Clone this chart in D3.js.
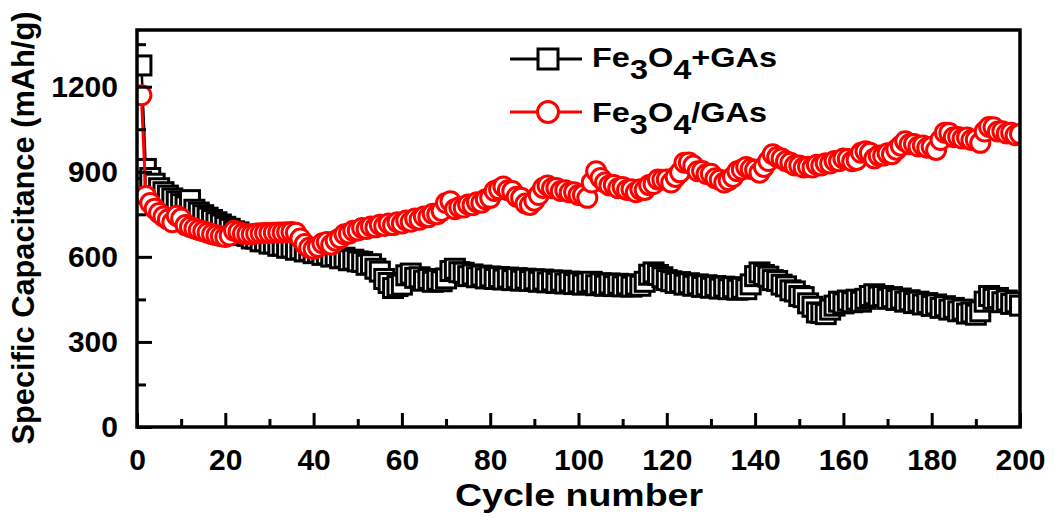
<!DOCTYPE html>
<html><head><meta charset="utf-8">
<script src="https://cdn.jsdelivr.net/npm/d3@7"></script>
<style>
html,body{margin:0;padding:0;background:#fff;}
svg{display:block;font-family:"Liberation Sans",Arial,sans-serif;font-weight:bold;}
</style></head>
<body>
<svg id="chart" width="1054" height="520"></svg>
<script>
// ---- data ----
const cycles = d3.range(1, 201);
const seriesNames = ["Fe3O4+GAs", "Fe3O4/GAs"];
const blackValues = [
 1275, 910, 878, 858, 842, 828, 816, 806, 796, 786,
 778, 800, 766, 756, 747, 738, 730, 722, 714, 706,
 699, 690, 686, 677, 674, 665, 664, 655, 655, 647,
 647, 639, 640, 632, 633, 625, 627, 619, 621, 613,
 615, 607, 609, 601, 603, 595, 597, 588, 590, 584,
 582, 572, 574, 558, 548, 522, 508, 490, 497, 502,
 535, 541, 526, 528, 516, 522, 512, 519, 514, 524,
 550, 558, 546, 544, 532, 538, 528, 534, 524, 531,
 522, 529, 520, 527, 518, 525, 516, 523, 515, 521,
 512, 520, 510, 517, 508, 516, 506, 513, 504, 510,
 502, 509, 512, 500, 507, 498, 506, 497, 505, 496,
 503, 495, 502, 498, 512, 537, 545, 536, 528, 518,
 514, 508, 511, 502, 507, 498, 503, 494, 500, 491,
 497, 488, 495, 486, 493, 484, 491, 486, 503, 532,
 545, 536, 530, 518, 515, 502, 496, 482, 478, 462,
 458, 436, 424, 404, 402, 398, 414, 428, 442, 436,
 446, 440, 449, 442, 452, 462, 468, 460, 462, 452,
 458, 448, 453, 442, 447, 437, 442, 432, 437, 427,
 432, 420, 426, 414, 420, 408, 414, 400, 404, 396,
 408, 442, 462, 452, 455, 440, 446, 434, 440, 428
];
const redValues = [
 1170, 815, 790, 770, 755, 742, 732, 722, 745, 735,
 712, 705, 700, 695, 690, 685, 680, 676, 673, 670,
 675, 692, 688, 682, 680, 680, 682, 683, 684, 684,
 685, 686, 686, 687, 688, 685, 665, 645, 632, 628,
 635, 648, 652, 643, 657, 666, 680, 682, 692, 693,
 702, 698, 707, 704, 713, 709, 718, 712, 722, 718,
 728, 724, 735, 731, 742, 740, 752, 750, 762, 790,
 796, 768, 775, 774, 785, 782, 793, 791, 803, 808,
 832, 838, 848, 835, 832, 812, 808, 788, 783, 798,
 818, 843, 852, 842, 843, 832, 835, 827, 828, 818,
 818, 808, 862, 902, 878, 862, 852, 853, 842, 846,
 836, 838, 828, 838, 836, 853, 857, 873, 872, 873,
 862, 882, 898, 932, 933, 922, 902, 903, 892, 893,
 877, 872, 862, 870, 882, 902, 908, 917, 910, 907,
 897, 917, 938, 962, 952, 947, 937, 932, 922, 922,
 915, 918, 915, 925, 922, 930, 929, 938, 937, 947,
 945, 937, 942, 967, 972, 967, 947, 957, 957, 965,
 962, 978, 992, 1008, 997, 998, 989, 993, 985, 988,
 977, 1012, 1038, 1037, 1022, 1023, 1017, 1021, 1012, 1013,
 1002, 1042, 1058, 1057, 1042, 1043, 1035, 1038, 1029, 1033
];
const xMajorTicks = [0,20,40,60,80,100,120,140,160,180,200];
const xMinorTicks = [10,30,50,70,90,110,130,150,170,190];
const yMajorTicks = [0,300,600,900,1200];
const yMinorTicks = [150,450,750,1050,1350];

// ---- layout ----
const svg = d3.select("#chart");
const L = 137, R = 1020, T = 30, B = 427;
const x = d3.scaleLinear().domain([0, 200]).range([L, R]);
const y = d3.scaleLinear().domain([0, 1400]).range([B, T]);

svg.append("defs").append("clipPath").attr("id", "plotclip")
  .append("rect").attr("x", L).attr("y", T).attr("width", R - L).attr("height", B - T);

// data
const plot = svg.append("g").attr("clip-path", "url(#plotclip)");
const line = d3.line().x((d, i) => x(cycles[i])).y(d => y(d));

// black squares series
plot.append("path").datum(blackValues).attr("d", line)
  .attr("fill", "none").attr("stroke", "#000").attr("stroke-width", 2.5);
const sq = 19;
plot.append("g").selectAll("rect").data(blackValues).join("rect")
  .attr("x", (d, i) => x(cycles[i]) - sq / 2).attr("y", d => y(d) - sq / 2)
  .attr("width", sq).attr("height", sq)
  .attr("fill", "#fff").attr("stroke", "#000").attr("stroke-width", 3);

// red circles series
plot.append("path").datum(redValues).attr("d", line)
  .attr("fill", "none").attr("stroke", "#f00").attr("stroke-width", 3);
plot.append("g").selectAll("circle").data(redValues).join("circle")
  .attr("cx", (d, i) => x(cycles[i])).attr("cy", d => y(d)).attr("r", 9.5)
  .attr("fill", "#fff").attr("stroke", "#f00").attr("stroke-width", 3);

// axes
const gx = svg.append("g").attr("transform", `translate(0,${B})`)
  .call(d3.axisBottom(x).tickValues(xMajorTicks).tickSizeInner(-14).tickSizeOuter(0).tickPadding(22).tickFormat(d3.format("d")));
const gxm = svg.append("g").attr("transform", `translate(0,${B})`)
  .call(d3.axisBottom(x).tickValues(xMinorTicks).tickSizeInner(-8).tickSizeOuter(0).tickFormat(""));
const gy = svg.append("g").attr("transform", `translate(${L},0)`)
  .call(d3.axisLeft(y).tickValues(yMajorTicks).tickSizeInner(-15).tickSizeOuter(0).tickPadding(19).tickFormat(d3.format("d")));
const gym = svg.append("g").attr("transform", `translate(${L},0)`)
  .call(d3.axisLeft(y).tickValues(yMinorTicks).tickSizeInner(-9).tickSizeOuter(0).tickFormat(""));
[gx, gxm, gy, gym].forEach(g => {
  g.select(".domain").remove();
  g.selectAll(".tick line").attr("stroke", "#000").attr("stroke-width", 3);
  g.selectAll("text").attr("fill", "#000").attr("font-size", 30)
    .attr("font-family", "'Liberation Sans', Arial, sans-serif").attr("font-weight", "bold");
});

// frame
svg.append("rect").attr("x", L).attr("y", T).attr("width", R - L).attr("height", B - T)
  .attr("fill", "none").attr("stroke", "#000").attr("stroke-width", 3.5);

// axis titles
svg.append("text").attr("x", (455 + 703) / 2).attr("y", 506).attr("text-anchor", "middle")
  .attr("font-size", 31).attr("textLength", 248).attr("lengthAdjust", "spacingAndGlyphs")
  .text("Cycle number");
svg.append("text").attr("transform", "translate(34,228) rotate(-90)").attr("text-anchor", "middle")
  .attr("font-size", 30.5).attr("textLength", 433).attr("lengthAdjust", "spacingAndGlyphs")
  .text("Specific Capacitance (mAh/g)");

// legend
const leg = svg.append("g");
function legendText(yb, tail, len) {
  const t = leg.append("text").attr("x", 592).attr("y", yb).attr("font-size", 28)
    .attr("textLength", len).attr("lengthAdjust", "spacingAndGlyphs");
  t.append("tspan").text("Fe");
  t.append("tspan").attr("dy", 12).text("3");
  t.append("tspan").attr("dy", -12).text("O");
  t.append("tspan").attr("dy", 12).text("4");
  t.append("tspan").attr("dy", -12).text(tail);
}
leg.append("line").attr("x1", 510).attr("x2", 582).attr("y1", 59).attr("y2", 59)
  .attr("stroke", "#000").attr("stroke-width", 3);
leg.append("rect").attr("x", 548 - 10).attr("y", 59 - 10).attr("width", 20).attr("height", 20)
  .attr("fill", "#fff").attr("stroke", "#000").attr("stroke-width", 3);
legendText(67, "+GAs", 185);
leg.append("line").attr("x1", 510).attr("x2", 582).attr("y1", 112).attr("y2", 112)
  .attr("stroke", "#f00").attr("stroke-width", 3);
leg.append("circle").attr("cx", 548).attr("cy", 112).attr("r", 10.5)
  .attr("fill", "#fff").attr("stroke", "#f00").attr("stroke-width", 3);
legendText(122, "/GAs", 175);
</script>
</body></html>
